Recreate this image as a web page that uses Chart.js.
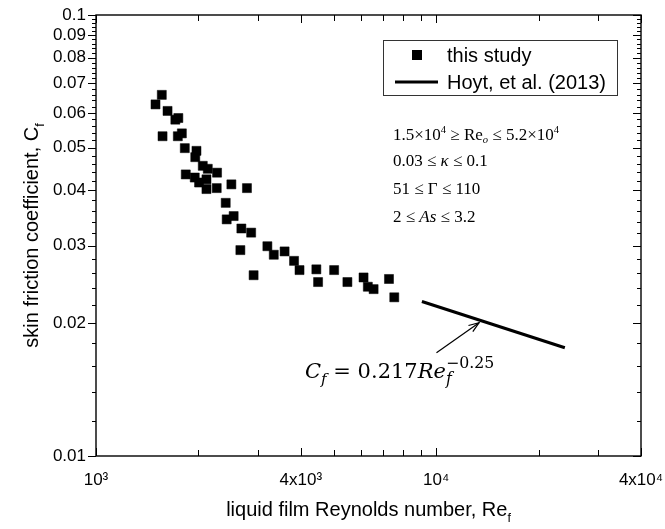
<!DOCTYPE html>
<html><head><meta charset="utf-8">
<script src="https://cdn.jsdelivr.net/npm/chart.js@4/dist/chart.umd.min.js"></script>
<style>html,body{margin:0;padding:0;background:#fff;}</style>
</head><body>
<canvas id="c" width="665" height="529"></canvas>
<script>
// ---- data ----
const studyRe = [1561,1496,1623,1711,1746,1569,1740,1788,1824,1974,1958,2060,2131,2269,1836,1951,2009,2112,2112,2264,2500,2778,2406,2422,2539,2675,2858,2657,3190,3331,3584,3821,3965,2906,4444,4496,5012,5483,6116,6296,6547,7265,7530];
const studyCf = [0.0659,0.0627,0.0606,0.0579,0.0584,0.0531,0.0531,0.0539,0.0499,0.0492,0.0476,0.0455,0.0448,0.0439,0.0435,0.0428,0.0417,0.0424,0.0403,0.0405,0.0413,0.0405,0.0375,0.0344,0.0350,0.0328,0.0321,0.0293,0.0299,0.0286,0.0291,0.0277,0.0264,0.0257,0.0265,0.0248,0.0264,0.0248,0.0254,0.0242,0.0239,0.0252,0.0229];
const hoytRe = [9080, 23890];
const hoytCf = [0.0224, 0.0176];
const seriesLabels = ['this study', 'Hoyt, et al. (2013)'];

const xMajorTicks = [1000, 4000, 10000, 40000];
const xTickLabels = ['10\u00B3', '4x10\u00B3', '10\u2074', '4x10\u2074'];
const xMinorTicks = [2000,3000,5000,6000,7000,8000,9000,20000,30000];
const yMajorTicks = [0.01,0.02,0.03,0.04,0.05,0.06,0.07,0.08,0.09,0.1];
const yTickLabels = ['0.01','0.02','0.03','0.04','0.05','0.06','0.07','0.08','0.09','0.1'];
const yMinorTicks = [];
for (let d = 1; d < 10; d++) for (let k = 1; k < 5; k++) yMinorTicks.push(+(d*0.01 + k*0.002).toFixed(4));

// arrow (tail -> head) in data coordinates
const arrowTail = {x:10020, y:0.01715};
const arrowHead = {x:13370, y:0.02006};

const SANS = '"Liberation Sans", Arial, sans-serif';
const SERIF = '"Liberation Serif", "Times New Roman", serif';
const MATH = '"DejaVu Serif", "Liberation Serif", serif';

function rich(ctx, x, y, segs, size, fam, draw){
  let cx = x;
  for (const s of segs){
    const it = s.i ? 'italic ' : '';
    if (s.sub !== undefined || s.sup !== undefined){
      let w = 0;
      const sc = s.scale || 0.62;
      if (s.sub !== undefined){
        ctx.font = (s.subI ? 'italic ' : '') + (size*sc) + 'px ' + fam;
        if (draw) ctx.fillText(s.sub, cx, y + size*(s.subDy||0.25));
        w = Math.max(w, ctx.measureText(s.sub).width);
      }
      if (s.sup !== undefined){
        ctx.font = (s.supI ? 'italic ' : '') + (size*sc) + 'px ' + fam;
        if (draw) ctx.fillText(s.sup, cx, y - size*(s.supDy||0.42));
        w = Math.max(w, ctx.measureText(s.sup).width);
      }
      cx += w;
    } else {
      ctx.font = it + size + 'px ' + fam;
      if (draw) ctx.fillText(s.t, cx, y);
      cx += ctx.measureText(s.t).width;
    }
  }
  return cx - x;
}

const decor = {
  id: 'decor',
  afterDraw(chart){
    const ctx = chart.ctx, a = chart.chartArea;
    const xs = chart.scales.x, ys = chart.scales.y;
    ctx.save();
    ctx.strokeStyle = '#000'; ctx.fillStyle = '#000';
    // frame
    ctx.lineWidth = 1.4;
    ctx.strokeRect(a.left, a.top, a.right - a.left, a.bottom - a.top);
    // x ticks (inward, bottom and top)
    ctx.lineWidth = 1;
    const xt = (v, len) => {
      const p = Math.round(xs.getPixelForValue(v)) + 0.5;
      ctx.beginPath(); ctx.moveTo(p, a.bottom); ctx.lineTo(p, a.bottom - len);
      ctx.moveTo(p, a.top); ctx.lineTo(p, a.top + len); ctx.stroke();
    };
    xMajorTicks.forEach(v => xt(v, 8));
    xMinorTicks.forEach(v => xt(v, 6));
    // y ticks (left outward, right inward)
    const yt = (v, len) => {
      const p = Math.round(ys.getPixelForValue(v)) + 0.5;
      ctx.beginPath(); ctx.moveTo(a.left, p); ctx.lineTo(a.left - len, p);
      ctx.moveTo(a.right, p); ctx.lineTo(a.right - len, p); ctx.stroke();
    };
    yMajorTicks.forEach(v => yt(v, 8));
    yMinorTicks.forEach(v => yt(v, 4));

    // axis titles
    ctx.textBaseline = 'alphabetic';
    const xTitle = [{t:'liquid film Reynolds number, Re'}, {sub:'f', subDy:0.3}];
    let w = rich(ctx, 0, 0, xTitle, 20, SANS, false);
    rich(ctx, (a.left + a.right)/2 - w/2, 516, xTitle, 20, SANS, true);
    const yTitle = [{t:'skin friction coefficient, C'}, {sub:'f', subDy:0.3}];
    w = rich(ctx, 0, 0, yTitle, 20, SANS, false);
    ctx.save();
    ctx.translate(38, (a.top + a.bottom)/2);
    ctx.rotate(-Math.PI/2);
    rich(ctx, -w/2, 0, yTitle, 20, SANS, true);
    ctx.restore();

    // legend
    ctx.lineWidth = 1; ctx.strokeStyle = '#333';
    ctx.strokeRect(383.5, 40.5, 234, 55);
    ctx.fillStyle = '#000';
    ctx.fillRect(412, 50, 10, 10);
    ctx.strokeStyle = '#000'; ctx.lineWidth = 3;
    ctx.beginPath(); ctx.moveTo(395, 82); ctx.lineTo(438, 82); ctx.stroke();
    ctx.font = '20px ' + SANS; ctx.textBaseline = 'middle';
    ctx.fillText(seriesLabels[0], 447, 56);
    ctx.fillText(seriesLabels[1], 447, 83);

    // parameter ranges
    ctx.textBaseline = 'alphabetic';
    const fs = 17;
    rich(ctx, 393, 140, [{t:'1.5\u00D710'}, {sup:'4', supDy:0.4}, {t:' \u2265 Re'}, {sub:'o', subI:true, subDy:0.2}, {t:' \u2264 5.2\u00D710'}, {sup:'4', supDy:0.4}], fs, SERIF, true);
    rich(ctx, 393, 166, [{t:'0.03 \u2264 '}, {t:'\u03BA', i:true}, {t:' \u2264 0.1'}], fs, SERIF, true);
    rich(ctx, 393, 194, [{t:'51 \u2264 \u0393 \u2264 110'}], fs, SERIF, true);
    rich(ctx, 393, 222, [{t:'2 \u2264 '}, {t:'As', i:true}, {t:' \u2264 3.2'}], fs, SERIF, true);

    // equation
    rich(ctx, 305, 378, [{t:'C', i:true}, {sub:'f', subI:true, subDy:0.3, scale:0.72}, {t:' = 0.217'}, {t:'Re', i:true}, {sub:'f', subI:true, subDy:0.3, sup:'\u22120.25', supDy:0.5, scale:0.75}], 21, MATH, true);

    // arrow
    const tx = xs.getPixelForValue(arrowTail.x), ty = ys.getPixelForValue(arrowTail.y);
    const hx = xs.getPixelForValue(arrowHead.x), hy = ys.getPixelForValue(arrowHead.y);
    ctx.lineWidth = 1.2; ctx.strokeStyle = '#000';
    ctx.beginPath(); ctx.moveTo(tx, ty); ctx.lineTo(hx, hy); ctx.stroke();
    const ang = Math.atan2(hy - ty, hx - tx), L = 11, sp = 0.35;
    ctx.beginPath();
    ctx.moveTo(hx - L*Math.cos(ang - sp), hy - L*Math.sin(ang - sp));
    ctx.lineTo(hx, hy);
    ctx.lineTo(hx - L*Math.cos(ang + sp), hy - L*Math.sin(ang + sp));
    ctx.stroke();
    ctx.restore();
  }
};

const noPad = s => { s.paddingLeft = 0; s.paddingRight = 0; s.paddingTop = 0; s.paddingBottom = 0; };

new Chart(document.getElementById('c'), {
  type: 'scatter',
  data: {
    datasets: [
      { label: seriesLabels[0], data: studyRe.map((x, i) => ({x, y: studyCf[i]})),
        pointStyle: 'rect', pointRadius: 6.4, pointHoverRadius: 6.4,
        backgroundColor: '#000', borderColor: '#000', borderWidth: 0.5 },
      { label: seriesLabels[1], data: hoytRe.map((x, i) => ({x, y: hoytCf[i]})),
        showLine: true, borderColor: '#000', backgroundColor: '#000', borderWidth: 3,
        pointRadius: 0, pointHoverRadius: 0 }
    ]
  },
  options: {
    responsive: false, animation: false, events: [],
    layout: { padding: { top: 15, right: 24, left: 0, bottom: 0 } },
    plugins: { legend: { display: false }, tooltip: { enabled: false } },
    scales: {
      x: {
        type: 'logarithmic', min: 1000, max: 40000,
        afterBuildTicks: s => { s.ticks = xMajorTicks.map(v => ({value: v})); },
        afterFit: s => { s.height = 73; noPad(s); },
        grid: { display: false, drawTicks: false }, border: { display: false },
        ticks: { autoSkip: false, maxRotation: 0, padding: 14, color: '#000',
                 font: { family: SANS, size: 17 }, callback: (v, i) => xTickLabels[i] }
      },
      y: {
        type: 'logarithmic', min: 0.01, max: 0.1,
        afterBuildTicks: s => { s.ticks = yMajorTicks.map(v => ({value: v})); },
        afterFit: s => { s.width = 96; noPad(s); },
        grid: { display: false, drawTicks: false }, border: { display: false },
        ticks: { autoSkip: false, padding: 10, color: '#000',
                 font: { family: SANS, size: 17 }, callback: (v, i) => yTickLabels[i] }
      }
    }
  },
  plugins: [decor]
});
</script>
</body></html>
